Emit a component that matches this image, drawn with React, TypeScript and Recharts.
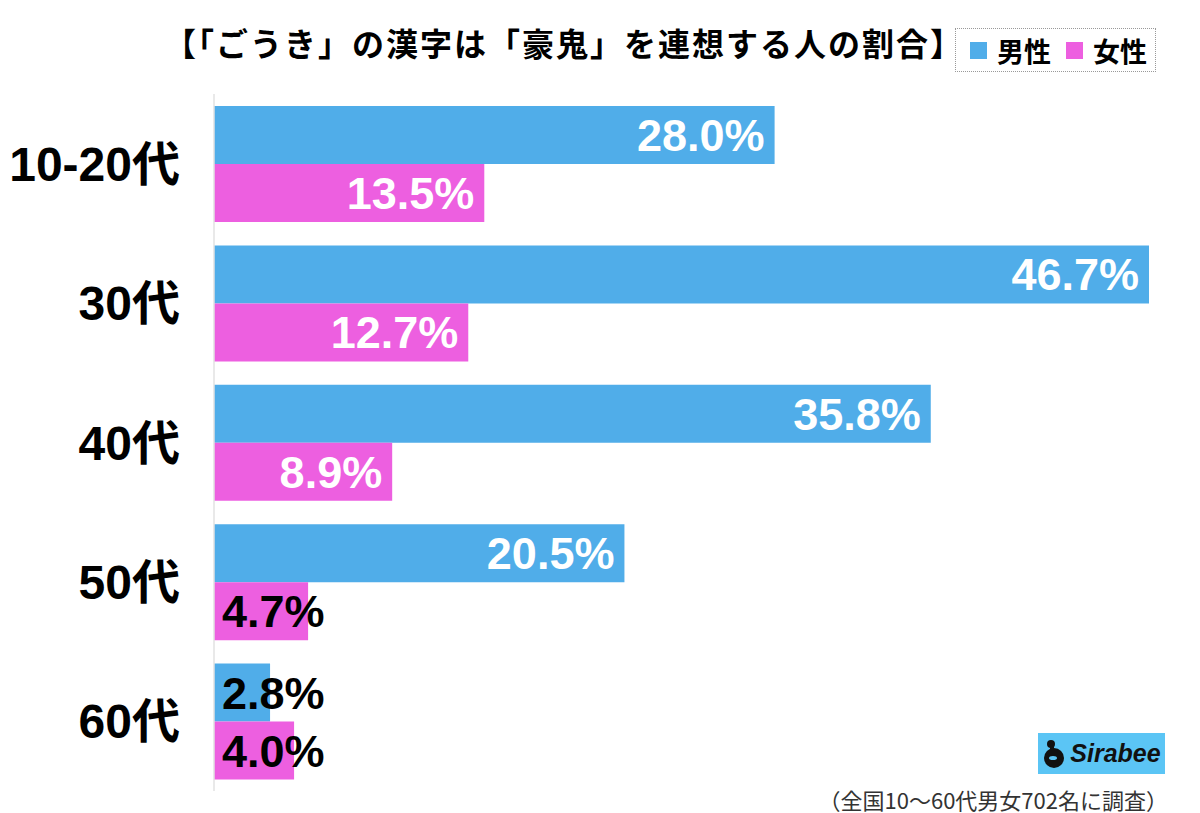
import React from 'react';
import { Bar, BarChart, LabelList, XAxis, YAxis } from 'recharts';

const categories = ['10-20代', '30代', '40代', '50代', '60代'];
const maleValues = [28.0, 46.7, 35.8, 20.5, 2.8];
const femaleValues = [13.5, 12.7, 8.9, 4.7, 4.0];
const seriesNames = ['男性', '女性'];

const MALE_COLOR = '#50ade9';
const FEMALE_COLOR = '#ed5fe0';
const LATIN = '"Liberation Sans", Arial, "Noto Sans CJK JP", sans-serif';
const CJK = '"Noto Sans CJK JP", "Noto Sans", sans-serif';

const chartData = categories.map((name, i) => ({
  name,
  male: maleValues[i],
  female: femaleValues[i],
}));

function renderValueLabel(props: any) {
  const { x, y, width, height, value } = props;
  const inside = value >= 5;
  const baseline = y + height / 2 + 16;
  return (
    <text
      x={inside ? x + width - 10 : x + 8}
      y={baseline}
      textAnchor={inside ? 'end' : 'start'}
      fill={inside ? '#fff' : '#000'}
      fontFamily={LATIN}
      fontWeight={700}
      fontSize={45}
    >
      {`${value.toFixed(1)}%`}
    </text>
  );
}

function CategoryTick(props: any) {
  const { y, payload } = props;
  return (
    <text x={180} y={y + 17} textAnchor="end" fill="#000" fontFamily={LATIN} fontWeight={700} fontSize={48}>
      {payload.value}
    </text>
  );
}

function LegendBox() {
  const colors = [MALE_COLOR, FEMALE_COLOR];
  return (
    <div
      style={{
        position: 'absolute',
        left: 955,
        top: 28,
        width: 201,
        height: 44,
        border: '1px dotted #999',
        display: 'flex',
        alignItems: 'center',
        paddingLeft: 14,
        boxSizing: 'border-box',
        fontFamily: CJK,
        fontWeight: 700,
        fontSize: 27,
        color: '#000',
        whiteSpace: 'nowrap',
      }}
    >
      {seriesNames.map((name, i) => (
        <span key={name} style={{ display: 'flex', alignItems: 'center', marginRight: i === 0 ? 15 : 0 }}>
          <span style={{ width: 17, height: 17, background: colors[i], marginRight: 10, display: 'inline-block' }} />
          {name}
        </span>
      ))}
    </div>
  );
}

export default function App() {
  return (
    <div style={{ position: 'absolute', left: 0, top: 0, width: 1200, height: 813, background: '#fff' }}>
      <div
        style={{
          position: 'absolute',
          left: 164,
          top: 20,
          fontFamily: CJK,
          fontWeight: 700,
          fontSize: 32,
          letterSpacing: 2,
          lineHeight: '44px',
          color: '#000',
          whiteSpace: 'nowrap',
        }}
      >
        【「ごうき」の漢字は「豪鬼」を連想する人の割合】
      </div>

      <LegendBox />

      <BarChart
        width={1200}
        height={813}
        data={chartData}
        layout="vertical"
        margin={{ top: 94, right: 51, bottom: 22, left: 0 }}
        barCategoryGap={12}
        barGap={0}
      >
        <XAxis type="number" domain={[0, 46.7]} hide />
        <YAxis
          type="category"
          dataKey="name"
          width={214}
          tickLine={false}
          axisLine={{ stroke: '#e2e2e2', strokeWidth: 1.5 }}
          tick={<CategoryTick />}
          interval={0}
        />
        <Bar dataKey="male" name={seriesNames[0]} fill={MALE_COLOR} isAnimationActive={false}>
          <LabelList dataKey="male" content={renderValueLabel} />
        </Bar>
        <Bar dataKey="female" name={seriesNames[1]} fill={FEMALE_COLOR} isAnimationActive={false}>
          <LabelList dataKey="female" content={renderValueLabel} />
        </Bar>
      </BarChart>

      <div
        style={{
          position: 'absolute',
          left: 1038,
          top: 733,
          width: 127,
          height: 41,
          background: '#5bc5f5',
          display: 'flex',
          alignItems: 'center',
          justifyContent: 'center',
          gap: 4,
        }}
      >
        <svg width={24} height={30} viewBox="0 0 24 30">
          <circle cx={12} cy={19} r={10} fill="#111" />
          <circle cx={9} cy={5} r={4} fill="#111" />
          <rect x={8} y={6} width={4} height={6} fill="#111" />
          <ellipse cx={11} cy={19} rx={4} ry={2} fill="#5bc5f5" />
        </svg>
        <span
          style={{
            fontFamily: LATIN,
            fontWeight: 700,
            fontStyle: 'italic',
            fontSize: 25,
            color: '#111',
          }}
        >
          Sirabee
        </span>
      </div>

      <div
        style={{
          position: 'absolute',
          right: 32,
          top: 786,
          fontFamily: CJK,
          fontSize: 22,
          lineHeight: '26px',
          color: '#333',
          whiteSpace: 'nowrap',
        }}
      >
        （全国10〜60代男女702名に調査）
      </div>
    </div>
  );
}
